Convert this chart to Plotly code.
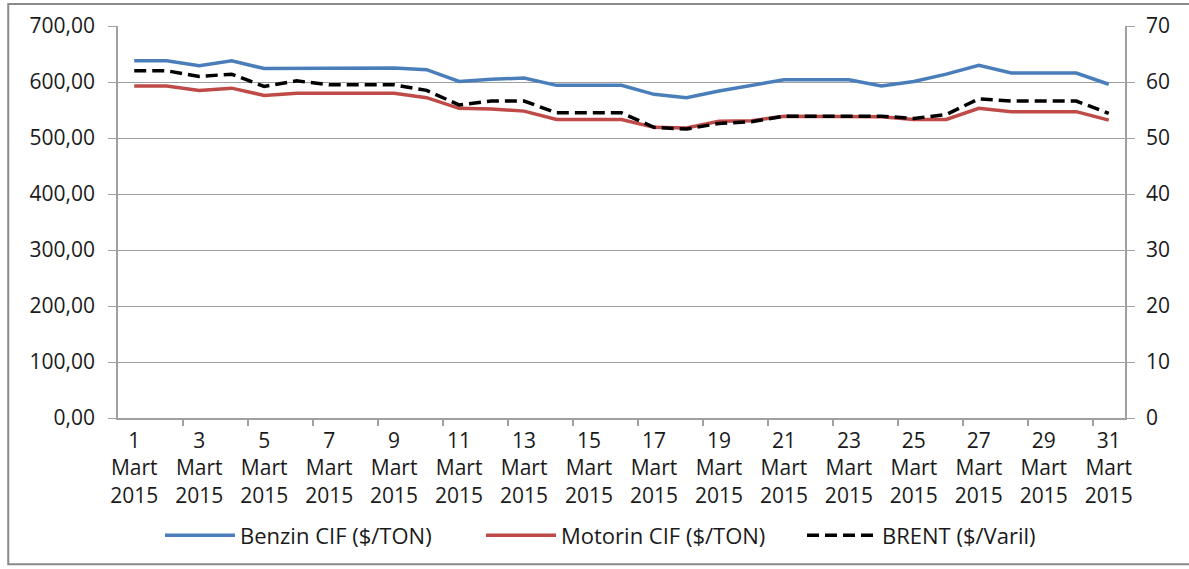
import plotly.graph_objects as go

days = list(range(1, 32))
tick_days = list(range(1, 32, 2))
tick_labels = [f"{d}<br>Mart<br>2015" for d in tick_days]
boundary_ticks = [d + 1.5 for d in range(1, 30, 2)]

benzin = [638, 638, 629, 638, 624, 624, 625, 625, 625, 622, 601, 605, 607, 594, 594, 594,
          578, 572, 584, 594, 604, 604, 604, 593, 601, 614, 630, 616, 616, 616, 596]
motorin = [593, 593, 585, 589, 576, 580, 580, 580, 580, 572, 553, 552, 548, 533, 533, 533,
           519, 518, 530, 531, 539, 539, 538, 538, 533, 533, 553, 547, 547, 547, 532]
brent = [62.0, 62.0, 61.0, 61.4, 59.2, 60.2, 59.5, 59.5, 59.5, 58.5, 55.9, 56.6, 56.6, 54.5, 54.5, 54.5,
         51.9, 51.6, 52.6, 52.9, 53.9, 53.9, 53.9, 53.9, 53.5, 54.2, 57.0, 56.6, 56.6, 56.6, 54.4]

FONT = "Open Sans"
TXT = "#1a1a1a"
GRID = "#a0a0a0"

fig = go.Figure()
fig.add_trace(go.Scatter(x=days, y=benzin, name="Benzin CIF ($/TON)", mode="lines",
                         line=dict(color="#4A7EBB", width=3.5)))
fig.add_trace(go.Scatter(x=days, y=motorin, name="Motorin CIF ($/TON)", mode="lines",
                         line=dict(color="#BE4B48", width=3.5)))
fig.add_trace(go.Scatter(x=days, y=brent, name="BRENT ($/Varil)", mode="lines", yaxis="y2",
                         line=dict(color="#000000", width=3.5, dash="12px,6px")))

fig.update_layout(
    width=1189, height=569,
    margin=dict(l=118, r=64, t=26, b=149),
    paper_bgcolor="white", plot_bgcolor="white",
    separators=",.",
    font=dict(family=FONT, size=21, color=TXT),
    showlegend=True,
    legend=dict(orientation="h", x=(160 - 118) / 1007, xanchor="left", y=(420 - 538) / 394,
                yanchor="middle", font=dict(family=FONT, size=22, color=TXT),
                itemwidth=70, entrywidth=236, entrywidthmode="pixels", traceorder="normal"),
    xaxis=dict(range=[0.5, 31.5], tickvals=tick_days, ticktext=tick_labels, ticks="",
               showgrid=False, zeroline=False, showline=True, linecolor=GRID, linewidth=1.5,
               tickfont=dict(family=FONT, size=21, color=TXT), automargin=False,
               ticklabelstandoff=3,
               minor=dict(tickmode="array", tickvals=boundary_ticks, ticks="outside", ticklen=6,
                          tickcolor=GRID, tickwidth=1.5, showgrid=False)),
    yaxis=dict(range=[0, 700], dtick=100, tickformat=".2f", showgrid=True, gridcolor=GRID,
               gridwidth=1.2, zeroline=False, showline=True, linecolor=GRID, linewidth=1.5,
               ticks="outside", ticklen=8, tickcolor=GRID, ticklabelstandoff=9, automargin=False,
               tickfont=dict(family=FONT, size=21, color=TXT)),
    yaxis2=dict(range=[0, 70], dtick=10, overlaying="y", side="right", showgrid=False,
                zeroline=False, showline=True, linecolor=GRID, linewidth=1.5, automargin=False,
                ticks="outside", ticklen=8, tickcolor=GRID, ticklabelstandoff=7,
                tickfont=dict(family=FONT, size=21, color=TXT)),
)

# outer chart border
fig.add_shape(type="rect", xref="paper", yref="paper", x0=-0.109, x1=1.2, y0=-0.373, y1=1.056,
              line=dict(color="#8a8a8a", width=2), fillcolor="rgba(0,0,0,0)", layer="below")

fig.write_html("out.html", config={"displayModeBar": False},
               post_script="document.body.style.margin='0';document.body.style.padding='0';")
